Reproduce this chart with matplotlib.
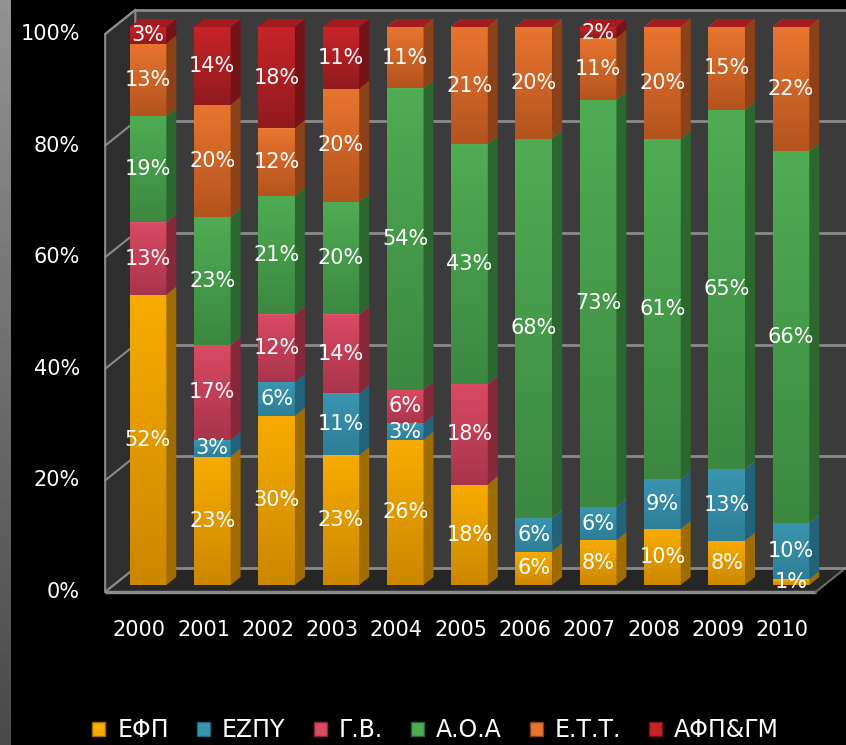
import matplotlib.pyplot as plt
import matplotlib.colors as mcolors
from matplotlib.patches import Polygon, Patch
import numpy as np

# данные (проценты по годам)
years = ['2000', '2001', '2002', '2003', '2004', '2005',
         '2006', '2007', '2008', '2009', '2010']
series_names = ['ΕΦΠ', 'ΕΖΠΥ', 'Γ.Β.', 'Α.Ο.Α', 'Ε.Τ.Τ.', 'ΑΦΠ&ΓΜ']
efp = [52, 23, 30, 23, 26, 18, 6, 8, 10, 8, 1]
ezpy = [0, 3, 6, 11, 3, 0, 6, 6, 9, 13, 10]
gv = [13, 17, 12, 14, 6, 18, 0, 0, 0, 0, 0]
aoa = [19, 23, 21, 20, 54, 43, 68, 73, 61, 65, 66]
ett = [13, 20, 12, 20, 11, 21, 20, 11, 20, 15, 22]
afp = [3, 14, 18, 11, 0, 0, 0, 2, 0, 0, 0]
series = [efp, ezpy, gv, aoa, ett, afp]

# цвета: (передняя грань верх, низ, боковая, верхняя)
colors = [
    ('#F8AC00', '#CC8700', '#A06C00', '#F2B53A'),
    ('#3A95B0', '#2E7E97', '#22637A', '#4FA3BC'),
    ('#DA4A63', '#A8344B', '#86283A', '#E0667E'),
    ('#4FAC54', '#3C8840', '#2C6730', '#5DB862'),
    ('#E8752F', '#B4531E', '#8C4119', '#EE8C4A'),
    ('#C82428', '#901A1D', '#741417', '#A31B1E'),
]

# псевдо-3D параметры
bar_w = 0.57
ddx, ddy = 0.155, 1.43
z_front, z_back = -0.88, 2.15
x_left, x_right = -0.53, 10.52
grid_col = '#8a8a8a'

fig = plt.figure(figsize=(8.46, 7.45), dpi=100, facecolor='black')
ax = fig.add_axes([0, 0, 1, 1])
ax.set_facecolor('black')
xlim = (-148 / 64.3, (846 - 148) / 64.3)
ylim = ((585 - 745) / 5.58, 585 / 5.58)


def proj(x, y, z):
    return (x + z * ddx, y + z * ddy)


# стенки и пол
back = [proj(x_left, 0, z_back), proj(x_right + 0.6, 0, z_back),
        proj(x_right + 0.6, 100, z_back), proj(x_left, 100, z_back)]
ax.add_patch(Polygon(back, closed=True, fc='#3b3b3b', ec='none', zorder=1))
left = [proj(x_left, 0, z_front), proj(x_left, 0, z_back),
        proj(x_left, 100, z_back), proj(x_left, 100, z_front)]
ax.add_patch(Polygon(left, closed=True, fc='#2e2e2e', ec=grid_col, lw=1.5, zorder=1))
floor = [proj(x_left, 0, z_front), proj(x_right, 0, z_front),
         proj(x_right, 0, z_back), proj(x_left, 0, z_back)]
ax.add_patch(Polygon(floor, closed=True, fc='#262626', ec='none', zorder=1))
ax.plot(*zip(proj(x_left, 0, z_front), proj(x_right, 0, z_front)),
        color='#8c8c8c', lw=2.5, zorder=2, solid_capstyle='butt')
ax.plot(*zip(proj(x_right, 0, z_front), proj(x_right, 0, z_back)),
        color='#6a6a6a', lw=1.5, zorder=2)

for v in [0, 20, 40, 60, 80, 100]:
    ax.plot(*zip(proj(x_left, v, z_back), proj(x_right + 0.6, v, z_back)),
            color=grid_col, lw=2, zorder=2)
    ax.plot(*zip(proj(x_left, v, z_front), proj(x_left, v, z_back)),
            color=grid_col, lw=1.5, zorder=2)

# столбцы
grad = np.linspace(0, 1, 64).reshape(-1, 1)
data = np.array(series, dtype=float)
totals = data.sum(axis=0)
for i in range(len(years)):
    bottom = 0.0
    x0, x1 = i - bar_w / 2, i + bar_w / 2
    for s in range(len(series)):
        h = data[s, i] / totals[i] * 100
        top = bottom + h
        c_top, c_bot, c_side, c_cap = colors[s]
        if h > 0:
            cmap = mcolors.LinearSegmentedColormap.from_list('g', [c_top, c_bot])
            ax.imshow(grad, cmap=cmap, extent=[x0, x1, bottom, top], aspect='auto',
                      interpolation='bilinear', origin='upper', zorder=3)
            side = [(x1, bottom), proj(x1, bottom, 1), proj(x1, top, 1), (x1, top)]
            ax.add_patch(Polygon(side, closed=True, fc=c_side, ec='none', zorder=3))
        cap = [(x0, top), (x1, top), proj(x1, top, 1), proj(x0, top, 1)]
        ax.add_patch(Polygon(cap, closed=True, fc=c_cap, ec='none', zorder=3))
        if series[s][i] > 0:
            ax.text(i, bottom + h / 2, f'{series[s][i]}%', color='white',
                    fontsize=15, ha='center', va='center', zorder=5)
        bottom = top

# подписи осей
for v in [0, 20, 40, 60, 80, 100]:
    ax.text(-1.06, v + z_front * ddy, f'{v}%', color='white', fontsize=15,
            ha='right', va='center')
for i, yr in enumerate(years):
    ax.text(i + z_front * ddx, (585 - 630) / 5.58, yr, color='white',
            fontsize=15, ha='center', va='center')

ax.set_xlim(*xlim)
ax.set_ylim(*ylim)
ax.axis('off')

handles = [Patch(fc=colors[s][0], ec=colors[s][2], lw=1) for s in range(len(series))]
fig.legend(handles, series_names, loc='center', bbox_to_anchor=(0.515, 0.02),
           ncol=6, frameon=False, handlelength=0.55, handleheight=0.55,
           handletextpad=0.5, columnspacing=1.2, labelcolor='white',
           borderpad=0.2, prop={'family': 'DejaVu Sans', 'size': 17})

# серая полоса слева
ax2 = fig.add_axes([0, 0, 10 / 846, 1])
strip = mcolors.LinearSegmentedColormap.from_list('s', ['#929292', '#4a4a4a'])
ax2.imshow(grad, cmap=strip, aspect='auto', extent=[0, 1, 0, 1], origin='upper')
ax2.axis('off')

fig.savefig('out.png', dpi=100, facecolor='black')
